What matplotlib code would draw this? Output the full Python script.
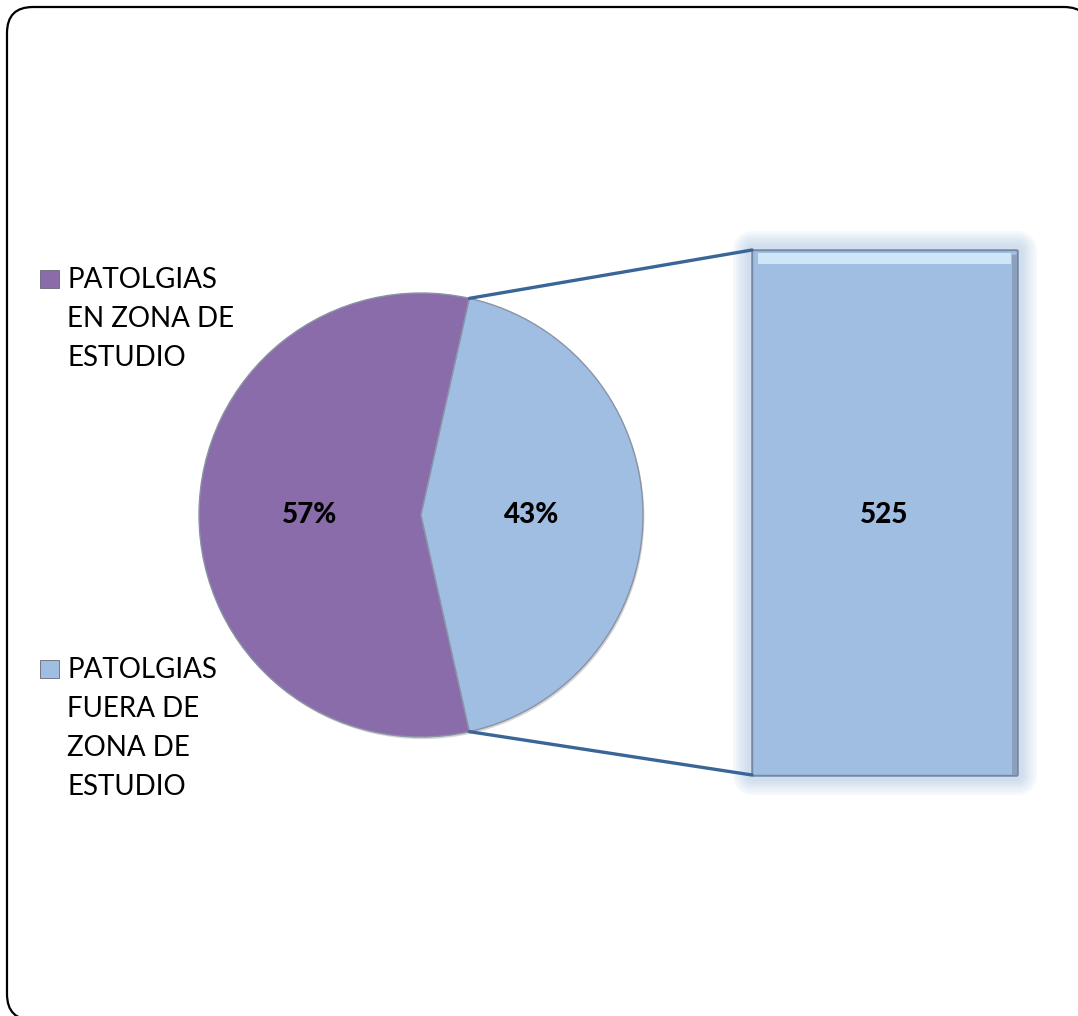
import matplotlib.pyplot as plt
import matplotlib.patheffects as pe
from matplotlib.patches import FancyBboxPatch, Rectangle, ConnectionPatch
import numpy as np

plt.rcParams['font.family'] = ['Lato', 'DejaVu Sans']

# data
labels = [['PATOLGIAS', 'EN ZONA DE', 'ESTUDIO'], ['PATOLGIAS', 'FUERA DE', 'ZONA DE', 'ESTUDIO']]
shares = [57, 43]
barValue = 525
colors = ['#8A6CAB', '#A0BDE2']
lineColor = '#3A6598'

fig = plt.figure(figsize=(10.78, 10.16), dpi=100)

# background axes in pixel coords (frame and legend)
bg = fig.add_axes([0, 0, 1, 1], zorder=-1)
bg.set_xlim(0, 1078)
bg.set_ylim(1016, 0)
bg.axis('off')
frame = FancyBboxPatch((7, 7), 1083, 1013, boxstyle='round,pad=0,rounding_size=26',
                       facecolor='white', edgecolor='black', linewidth=1.6, clip_on=False)
bg.add_patch(frame)

# pie
axPie = fig.add_axes([199/1078, 1 - 737/1016, 444/1078, 444/1016])
startAngle = 360 * shares[1] / 100 / 2
wedges, texts, autotexts = axPie.pie(shares, colors=colors, startangle=startAngle, radius=1,
                                     autopct='%.0f%%', pctdistance=0.5,
                                     wedgeprops=dict(edgecolor='#8a93a6', linewidth=1.0),
                                     textprops=dict(fontsize=20, fontweight='black', color='black'))
for w in wedges:
    w.set_path_effects([pe.SimplePatchShadow(offset=(1, -1.5), shadow_rgbFace='#888888', alpha=0.35), pe.Normal()])
axPie.set_xlim(-1, 1)
axPie.set_ylim(-1, 1)
axPie.set_aspect('equal')

# bar
axBar = fig.add_axes([752/1078, 1 - 775/1016, 265/1078, 525/1016])
bars = axBar.bar([0], [barValue], width=1, color=colors[1], edgecolor='#7488a4', linewidth=1.0, clip_on=False)
glow = [pe.withStroke(linewidth=lw, foreground='#9ab6dc', alpha=0.09, joinstyle='round')
        for lw in (28, 24, 20, 16, 12, 8)]
bars[0].set_path_effects(glow + [pe.Normal()])
# bevel highlight on top and shade on right
axBar.bar([0], [barValue * 0.02], bottom=barValue * 0.974, width=0.955, color='#cfe6f8', linewidth=0)
axBar.bar([0.49], [barValue * 0.99], width=0.02, color='#8aa0bd', linewidth=0)
axBar.text(0, barValue / 2, f'{barValue}', ha='center', va='center_baseline', fontsize=20,
           fontweight='black')
axBar.set_xlim(-0.5, 0.5)
axBar.set_ylim(0, barValue)
axBar.axis('off')

# connector lines from pie edge to bar corners
theta = np.deg2rad(startAngle)
for sign, yb in [(1, barValue), (-1, 0)]:
    con = ConnectionPatch(xyA=(np.cos(theta), sign * np.sin(theta)), coordsA=axPie.transData,
                          xyB=(-0.5, yb), coordsB=axBar.transData,
                          color=lineColor, linewidth=2.4)
    fig.add_artist(con)

# legend
legendY = [288, 678]
lineStep = 39
for lines, color, y in zip(labels, colors, legendY):
    bg.add_patch(Rectangle((40, y - 18), 19, 18, facecolor=color, edgecolor='#666677', linewidth=0.6))
    for k, line in enumerate(lines):
        bg.text(67, y + k * lineStep, line, fontsize=20, va='baseline', ha='left')

fig.savefig('out.png', dpi=100)
